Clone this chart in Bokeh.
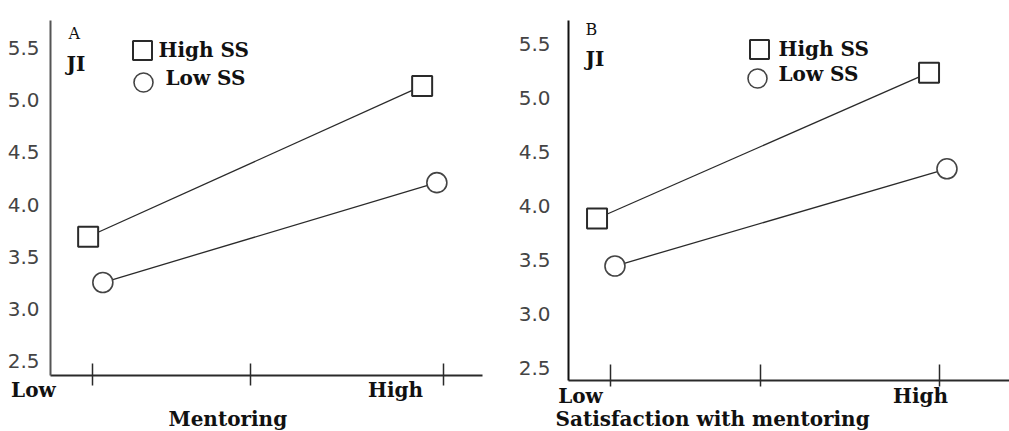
from bokeh.plotting import figure
from bokeh.layouts import row
from bokeh.models import Range1d, FixedTicker, Label, Title, PrintfTickFormatter
from bokeh.embed import file_html
from bokeh.resources import INLINE

# ---------------- data ----------------
levels = ["Low", "High"]
series_names = ["High SS", "Low SS"]
y_ticks = [2.5, 3.0, 3.5, 4.0, 4.5, 5.0, 5.5]

a_high_ss = [3.69, 5.14]
a_low_ss = [3.25, 4.21]
b_high_ss = [3.88, 5.23]
b_low_ss = [3.44, 4.34]

a_title, a_ylabel, a_xlabel = "A", "JI", "Mentoring"
b_title, b_ylabel, b_xlabel = "B", "JI", "Satisfaction with mentoring"

SERIF = "DejaVu Serif"
SANS = "DejaVu Sans"
INK = "#2a2a2a"
NBSP = "\u00a0"


def make_panel(cfg, high, low, title, ylab, xlab):
    fl, fr, ft, fb = cfg["frame"]  # page coords of the frame
    x0, scale = cfg["xmap"]        # page x of level 0, pixels per level step
    to_x = lambda px: (px - x0) / scale
    p = figure(
        frame_width=fr - fl, frame_height=fb - ft,
        min_border_left=cfg["border"][0], min_border_right=cfg["border"][1],
        min_border_top=cfg["border"][2], min_border_bottom=cfg["border"][3],
        x_range=Range1d(to_x(fl), to_x(fr)), y_range=Range1d(*cfg["yr"]),
        output_backend="svg", toolbar_location=None,
        background_fill_color="white", border_fill_color="white",
    )
    p.outline_line_color = None
    p.grid.visible = False
    p.extra_x_ranges = {"px": Range1d(fl, fr)}
    p.extra_y_ranges = {"px": Range1d(fb, ft)}

    ya = p.yaxis[0]
    ya.ticker = FixedTicker(ticks=y_ticks)
    ya.formatter = PrintfTickFormatter(format="%.1f")
    ya.major_tick_line_color = None
    ya.minor_tick_line_color = None
    ya.major_label_standoff = cfg["ystand"]
    ya.major_label_text_font = SANS
    ya.major_label_text_font_size = "20px"
    ya.major_label_text_color = "#444444"
    ya.axis_line_color = cfg["ycol"]
    ya.axis_line_width = 2

    # x axis: major ticks carry the level labels (no tick lines),
    # minor ticks are the visible tick marks
    lab_pos = [to_x(v) for v in cfg["level_label_px"]]
    xa = p.xaxis[0]
    xa.ticker = FixedTicker(ticks=lab_pos, minor_ticks=[to_x(v) for v in cfg["tick_px"]])
    xa.major_label_overrides = {lab_pos[0]: cfg["low_text"], lab_pos[1]: levels[1]}
    xa.major_tick_line_color = None
    xa.major_tick_in = 0
    xa.major_tick_out = 0
    xa.major_label_standoff = cfg["lab_stand"]
    xa.major_label_text_font = SERIF
    xa.major_label_text_font_style = "bold"
    xa.major_label_text_font_size = "20px"
    xa.major_label_text_color = "#111111"
    xa.minor_tick_in = cfg["tick_in"]
    xa.minor_tick_out = cfg["tick_out"]
    xa.minor_tick_line_color = INK
    xa.minor_tick_line_width = 1.5
    xa.axis_line_color = INK
    xa.axis_line_width = 2

    d = cfg["dodge"]
    xs_h = [i - d for i in range(len(levels))]
    xs_l = [i + d for i in range(len(levels))]
    p.line(xs_h, high, line_color=INK, line_width=1.3)
    p.line(xs_l, low, line_color=INK, line_width=1.3)
    p.scatter(xs_h, high, marker="square", size=20, fill_color="white",
              line_color=INK, line_width=2)
    p.scatter(xs_l, low, marker="circle", size=20, fill_color="white",
              line_color="#444444", line_width=1.6)

    (sqx, sqy), (cix, ciy) = cfg["legend_keys"]
    p.scatter([sqx], [sqy], x_range_name="px", y_range_name="px", marker="square",
              size=19, fill_color="white", line_color=INK, line_width=2)
    p.scatter([cix], [ciy], x_range_name="px", y_range_name="px", marker="circle",
              size=19, fill_color="white", line_color="#444444", line_width=1.6)

    def lab(text, x, y, bold=True, size="20px"):
        p.add_layout(Label(x=x, y=y, x_range_name="px", y_range_name="px", text=text,
                           text_font=SERIF, text_font_size=size,
                           text_font_style="bold" if bold else "normal",
                           text_color="#111111", text_baseline="middle",
                           text_align="left"))

    (h_x, h_y), (l_x, l_y) = cfg["legend_text"]
    lab(series_names[0], h_x, h_y)
    lab(series_names[1], l_x, l_y)
    lab(title, cfg["title"][0], cfg["title"][1], bold=False, size="16px")
    lab(ylab, cfg["ylab"][0], cfg["ylab"][1])

    p.add_layout(Title(text=xlab, align="left", offset=cfg["xlab_x"] - fl,
                       text_font=SERIF, text_font_size="20px",
                       text_font_style="bold", text_color="#111111",
                       standoff=cfg["xlab_stand"]), "below")
    return p


cfg_a = dict(
    frame=(50, 482, 20, 375), border=(50, 23, 20, 56),
    xmap=(95, 334), yr=(2.356, 5.769), dodge=0.022,
    tick_px=[92, 250, 443], level_label_px=[50.3, 395],
    low_text=levels[0] + NBSP * 5, lab_stand=-8,
    tick_in=12, tick_out=10, ystand=5, ycol="#555555",
    legend_keys=((142, 50), (143, 82)),
    legend_text=((158, 49), (165, 77)),
    title=(68, 33), ylab=(66, 63),
    xlab_x=168, xlab_stand=1,
)
cfg_b = dict(
    frame=(568, 1009, 20, 380), border=(63, 0, 20, 51),
    xmap=(605.5, 332), yr=(2.380, 5.713), dodge=0.027,
    tick_px=[610, 760, 939], level_label_px=[580, 920],
    low_text=levels[0], lab_stand=-3,
    tick_in=16, tick_out=6, ystand=12, ycol="#111111",
    legend_keys=((759, 49), (757, 78)),
    legend_text=((778, 48), (778, 73)),
    title=(585, 29), ylab=(585, 58),
    xlab_x=555, xlab_stand=-12,
)

pa = make_panel(cfg_a, a_high_ss, a_low_ss, a_title, a_ylabel, a_xlabel)
pb = make_panel(cfg_b, b_high_ss, b_low_ss, b_title, b_ylabel, b_xlabel)

layout = row(pa, pb, spacing=0)
open("out.html", "w").write(file_html(layout, INLINE))
